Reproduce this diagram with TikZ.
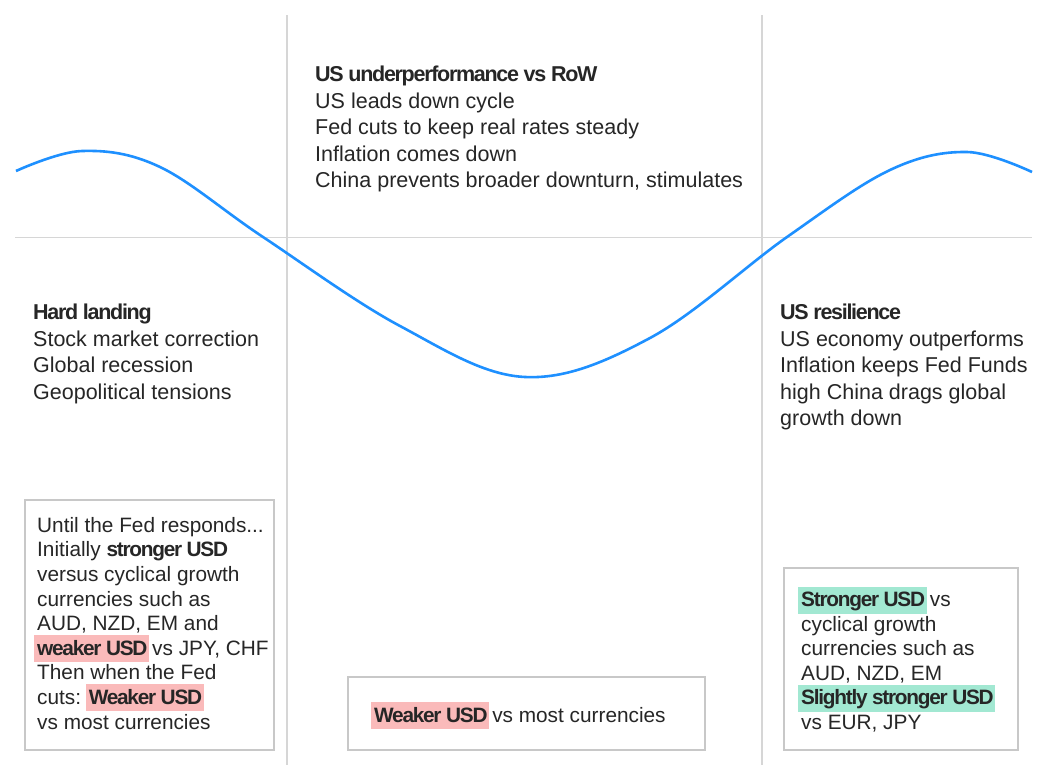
\documentclass[tikz,border=0pt]{standalone}
\usepackage{fontspec}
\setmainfont{Liberation Sans}[BoldFeatures={LetterSpace=-6}]
\definecolor{wavecol}{RGB}{30,144,255}
\definecolor{rulegray}{RGB}{214,214,214}
\definecolor{boxgray}{RGB}{200,200,200}
\definecolor{ink}{RGB}{38,38,38}
\definecolor{hlred}{RGB}{250,186,186}
\definecolor{hlgreen}{RGB}{162,232,210}
\newcommand\hilite[2]{\hspace*{-3pt}\smash{\setlength\fboxsep{0pt}\colorbox{#1}{\rule[-7pt]{0pt}{27pt}\hspace*{3pt}#2\hspace*{3pt}}}\hspace*{3pt}}
\tikzset{
 rule/.style={rulegray,line width=1.5pt},
 wave/.style={wavecol,line width=2.6pt},
 fxbox/.style={draw=boxgray,line width=1.5pt,inner sep=0pt,anchor=north west},
 txt/.style={ink,anchor=base west,align=left,inner sep=0pt,font=\fontsize{21.5}{26.5}\selectfont},
 boxtxt/.style={txt,font=\fontsize{20.8}{24.6}\selectfont}
}
\begin{document}
\begin{tikzpicture}[x=1pt,y=-1pt]
 \useasboundingbox[fill=white](0,0) rectangle (1048,774);
 % grid of scenarios
 \draw[rule](287,15)--(287,765);
 \draw[rule](762,15)--(762,765);
 \draw[rule](15,237.5)--(1032,237.5);
 % cycle
 \draw[wave] plot[smooth,tension=0.6] coordinates {(16,171) (82,151) (160,167) (263,237) (400,326) (525,377) (650,338) (787,237) (890,170) (967,152) (1032,172)};
 % scenarios (anchored on the last line)
 \node[txt] (under) at (315,187.5) {\textbf{US underperformance vs RoW}\\US leads down cycle\\Fed cuts to keep real rates steady\\Inflation comes down\\China prevents broader downturn, stimulates};
 \node[txt] (hard) at (33,399) {\textbf{Hard landing}\\Stock market correction\\Global recession\\Geopolitical tensions};
 \node[txt] (resil) at (780,425.5) {\textbf{US resilience}\\US economy outperforms\\Inflation keeps Fed Funds\\high China drags global\\growth down};
 % fx views
 \node[fxbox,minimum width=249pt,minimum height=250pt] (hardbox) at (24,499) {};
 \node[fxbox,minimum width=357pt,minimum height=73pt] (underbox) at (347,676) {};
 \node[fxbox,minimum width=234pt,minimum height=182pt] (resilbox) at (783,567) {};
 \node[boxtxt] (hardfx) at (37,729) {Until the Fed responds...\\Initially \textbf{stronger USD}\\versus cyclical growth\\currencies such as\\AUD, NZD, EM and\\\hilite{hlred}{\textbf{weaker USD}}vs JPY, CHF\\Then when the Fed\\cuts: \hilite{hlred}{\textbf{Weaker USD}}\\vs most currencies};
 \node[boxtxt] (underfx) at (374,722) {\hilite{hlred}{\textbf{Weaker USD}}vs most currencies};
 \node[boxtxt] (resilfx) at (801,729.5) {\hilite{hlgreen}{\textbf{Stronger USD}}vs\\cyclical growth\\currencies such as\\AUD, NZD, EM\\\hilite{hlgreen}{\textbf{Slightly stronger USD}}\\vs EUR, JPY};
\end{tikzpicture}
\end{document}
